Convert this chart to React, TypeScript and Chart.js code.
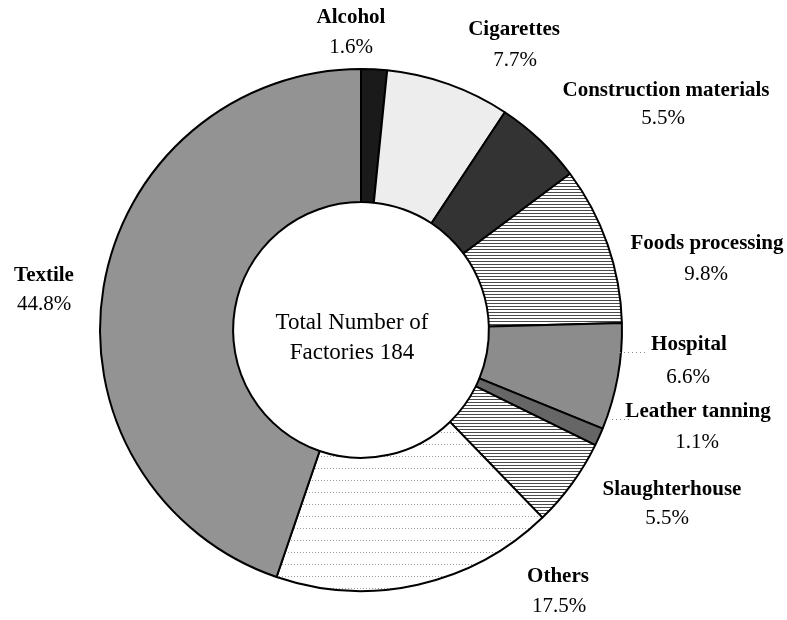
import React, { useEffect, useRef } from 'react';
import { Chart, registerables } from 'chart.js';

Chart.register(...registerables);

// ---- data ----
const categories = [
  'Alcohol',
  'Cigarettes',
  'Construction materials',
  'Foods processing',
  'Hospital',
  'Leather tanning',
  'Slaughterhouse',
  'Others',
  'Textile',
];
const shares = [1.6, 7.7, 5.5, 9.8, 6.6, 1.1, 5.5, 17.5, 44.8];
const percentLabels = ['1.6%', '7.7%', '5.5%', '9.8%', '6.6%', '1.1%', '5.5%', '17.5%', '44.8%'];
const centerLines = ['Total Number of', 'Factories 184'];

// ---- label placement (offsets from ring centre, px) ----
const nameOffsets: [number, number][] = [
  [-10, -312], [153, -300], [305, -239], [346, -86], [328, 15],
  [337, 82], [311, 160], [197, 247], [-317, -54],
];
const pctOffsets: [number, number][] = [
  [-10, -283], [154, -270], [302, -212], [345, -56], [327, 47],
  [336, 112], [306, 188], [198, 276], [-317, -26],
];
const centerOffsets: [number, number][] = [[-9, -7], [-9, 23]];
const leaders: [number, number, number, number][] = [
  [259, 22, 286, 22],
  [251, 89, 268, 89],
];

function makeTile(w: number, h: number, draw: (x: number, y: number) => string | null) {
  const c = document.createElement('canvas');
  c.width = w;
  c.height = h;
  const ctx = c.getContext('2d')!;
  ctx.fillStyle = '#ffffff';
  ctx.fillRect(0, 0, w, h);
  for (let y = 0; y < h; y++) {
    for (let x = 0; x < w; x++) {
      const col = draw(x, y);
      if (col) {
        ctx.fillStyle = col;
        ctx.fillRect(x, y, 1, 1);
      }
    }
  }
  return ctx.createPattern(c, 'repeat')!;
}

function hLines(spacing: number, fg: string) {
  return makeTile(4, spacing, (x, y) => (y === 0 ? fg : null));
}

function sparseDotLines() {
  return makeTile(6, 12, (x, y) => (y === 0 && x % 3 === 0 ? '#9a9a9a' : null));
}

const labelPlugin = {
  id: 'ringLabels',
  afterDraw(chart: any) {
    const meta = chart.getDatasetMeta(0);
    if (!meta.data.length) return;
    const cx = meta.data[0].x;
    const cy = meta.data[0].y;
    const ctx = chart.ctx;
    ctx.save();
    ctx.textAlign = 'center';
    ctx.textBaseline = 'middle';
    ctx.fillStyle = '#000';
    categories.forEach((name, i) => {
      ctx.font = 'bold 21px "Liberation Serif", "Times New Roman", serif';
      ctx.fillText(name, cx + nameOffsets[i][0], cy + nameOffsets[i][1]);
      ctx.font = '21px "Liberation Serif", "Times New Roman", serif';
      ctx.fillText(percentLabels[i], cx + pctOffsets[i][0], cy + pctOffsets[i][1]);
    });
    ctx.font = '23px "Liberation Serif", "Times New Roman", serif';
    centerLines.forEach((t, i) => {
      ctx.fillText(t, cx + centerOffsets[i][0], cy + centerOffsets[i][1]);
    });
    ctx.strokeStyle = '#888';
    ctx.lineWidth = 1;
    ctx.setLineDash([1, 3]);
    leaders.forEach(([x1, y1, x2, y2]) => {
      ctx.beginPath();
      ctx.moveTo(cx + x1, cy + y1 + 0.5);
      ctx.lineTo(cx + x2, cy + y2 + 0.5);
      ctx.stroke();
    });
    ctx.restore();
  },
};

export default function App() {
  const ref = useRef<HTMLCanvasElement | null>(null);

  useEffect(() => {
    if (!ref.current) return;
    const fills: any[] = [
      '#1a1a1a', // Alcohol
      '#ededed', // Cigarettes
      '#333333', // Construction
      hLines(3, '#4a4a4a'), // Foods processing
      '#8c8c8c', // Hospital
      '#666666', // Leather tanning
      hLines(3, '#4a4a4a'), // Slaughterhouse
      sparseDotLines(), // Others
      '#939393', // Textile
    ];
    const chart = new Chart(ref.current, {
      type: 'doughnut',
      data: {
        labels: categories,
        datasets: [
          {
            data: shares,
            backgroundColor: fills,
            borderColor: '#000000',
            borderWidth: 2,
            hoverOffset: 0,
            offset: 0,
          },
        ],
      },
      options: {
        responsive: false,
        animation: false,
        events: [],
        cutout: '49%',
        rotation: 0,
        layout: { padding: { top: 68, bottom: 28, left: 99, right: 164 } },
        plugins: {
          legend: { display: false },
          tooltip: { enabled: false },
          title: { display: false },
        },
      },
      plugins: [labelPlugin],
    });
    return () => chart.destroy();
  }, []);

  return (
    <div style={{ position: 'absolute', left: 0, top: 0, width: 787, height: 620, background: '#fff' }}>
      <canvas ref={ref} width={787} height={620} style={{ display: 'block' }} />
    </div>
  );
}
